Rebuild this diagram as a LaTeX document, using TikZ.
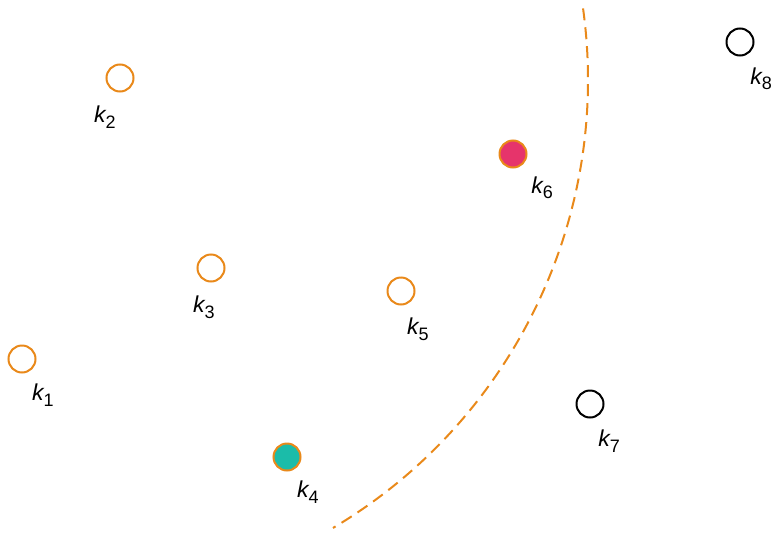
\documentclass[tikz,border=0pt]{standalone}
\usepackage{fontspec}
\setmainfont{Liberation Sans}
\usetikzlibrary{positioning}

\definecolor{siteorange}{HTML}{E9891A}
\definecolor{sitepink}{HTML}{E6346B}
\definecolor{siteteal}{HTML}{1BBCA9}

\newcommand{\klab}[1]{{\itshape k}\raisebox{-5.5pt}{\fontsize{18}{18}\selectfont #1}}

\begin{document}
\begin{tikzpicture}[x=1pt, y=-1pt,
    site/.style={circle, draw=siteorange, line width=2pt, minimum size=27pt, inner sep=0pt},
    farsite/.style={site, draw=black},
    klabel/.style={inner sep=0pt, font=\fontsize{23}{23}\selectfont}]
  \useasboundingbox (0,0) rectangle (776,533);

  % sites
  \node[site] (k1) at (22,359) {};
  \node[site] (k2) at (120,78) {};
  \node[site] (k3) at (211,268) {};
  \node[site, fill=siteteal] (k4) at (287,457) {};
  \node[site] (k5) at (401,291) {};
  \node[site, fill=sitepink] (k6) at (513,154) {};
  \node[farsite] (k7) at (590,404) {};
  \node[farsite] (k8) at (740,42) {};

  % labels
  \node[klabel] (l1) at (43,395) {\klab{1}};
  \node[klabel] (l2) at (105,117) {\klab{2}};
  \node[klabel] (l3) at (204,307) {\klab{3}};
  \node[klabel] (l4) at (308,492) {\klab{4}};
  \node[klabel] (l5) at (418,329) {\klab{5}};
  \node[klabel] (l6) at (542,188) {\klab{6}};
  \node[klabel] (l7) at (609,441) {\klab{7}};
  \node[klabel] (l8) at (761,79) {\klab{8}};

  % boundary
  \coordinate (ctr) at (67,80);
  \draw[siteorange, line width=2pt, dash pattern=on 12pt off 7pt]
    ([shift={(-7.9:521)}]ctr) arc[start angle=-7.9, end angle=59.3, radius=521];
\end{tikzpicture}
\end{document}
